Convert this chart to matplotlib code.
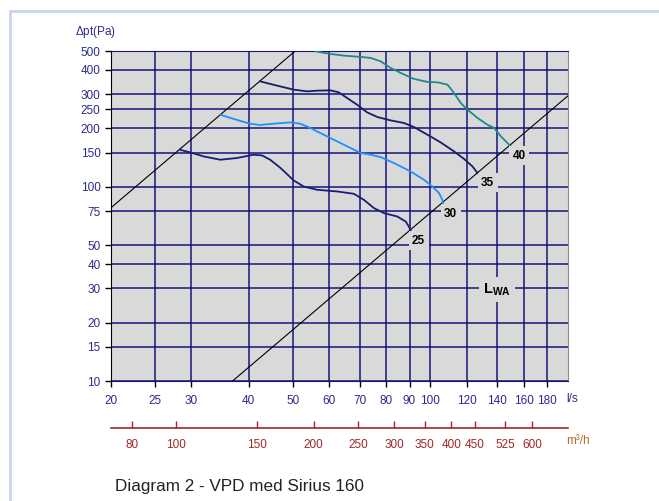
import matplotlib
matplotlib.use("Agg")
import matplotlib.pyplot as plt
from matplotlib.lines import Line2D
from matplotlib.ticker import FixedLocator, NullLocator

plt.rcParams['font.family'] = ['Liberation Sans', 'DejaVu Sans']
plt.rcParams['mathtext.fontset'] = 'custom'
plt.rcParams['mathtext.bf'] = 'Liberation Sans:bold'
plt.rcParams['mathtext.rm'] = 'Liberation Sans'

# fan curves, flow (l/s) vs total pressure (Pa)
q25 = [28.3, 29.8, 31.9, 34.7, 37.7, 41.0, 42.8, 44.6, 47.0, 50.2, 52.8, 56.5,
       62.5, 68.0, 71.5, 75.2, 79.1, 84.6, 88.3, 89.7, 90.5]
p25 = [155.1, 150.3, 143.3, 137.8, 140.6, 146.2, 145.0, 137.8, 124.9, 107.8, 100.3, 96.5,
       94.6, 92.0, 85.7, 77.7, 73.2, 70.3, 66.2, 62.4, 59.5]
q30 = [34.7, 37.1, 40.3, 42.4, 45.4, 49.4, 51.9, 54.6, 58.4, 62.5, 66.9, 70.3,
       74.0, 77.8, 83.2, 90.5, 96.8, 101.0, 104.4, 106.2, 106.5]
p30 = [235.0, 223.4, 211.2, 208.0, 211.2, 214.5, 211.2, 200.7, 185.4, 171.2, 158.3, 149.2,
       146.2, 142.2, 132.5, 119.9, 108.7, 100.3, 92.8, 85.7, 81.7]
q35 = [42.4, 46.2, 50.2, 53.7, 56.5, 60.4, 63.0, 65.7, 69.1, 72.7, 76.5, 81.8,
       87.5, 92.0, 98.5, 105.3, 112.6, 118.5, 123.6, 126.8]
p35 = [348.9, 331.6, 316.2, 309.9, 312.5, 313.7, 306.3, 286.6, 264.6, 241.5, 228.7, 219.7,
       213.0, 203.1, 185.4, 169.2, 152.1, 139.0, 127.3, 117.6]
q40 = [56.0, 60.4, 64.6, 70.3, 74.0, 77.8, 81.8, 86.1, 92.0, 98.5, 103.6, 109.0,
       112.6, 116.5, 120.5, 126.8, 133.3, 137.9, 142.6, 150.0]
p40 = [498.2, 483.1, 473.5, 466.2, 460.7, 442.5, 409.2, 385.6, 359.2, 346.6, 344.9, 335.6,
       304.1, 270.0, 249.4, 226.0, 208.7, 200.7, 181.7, 161.3]

# system lines
sys_hi_q = [20, 50.6]
sys_hi_p = [78, 500]
sys_lo_q = [36.9, 200]
sys_lo_p = [10, 294]

# sound power labels on the lower system line
lwa_labels = ['25', '30', '35', '40']
lwa_q = [94.2, 110.8, 133.4, 156.2]
lwa_p = [52.7, 72.6, 105, 144.6]

xticks = [20, 25, 30, 40, 50, 60, 70, 80, 90, 100, 120, 140, 160, 180]
yticks = [10, 15, 20, 30, 40, 50, 75, 100, 150, 200, 250, 300, 400, 500]
m3h_ticks = [80, 100, 150, 200, 250, 300, 350, 400, 450, 525, 600]

navy = '#14147a'
tick_blue = '#2b2b8c'
red = '#a02828'
bg = '#d9d9d9'

fig = plt.figure(figsize=(6.59, 5.01), dpi=100)
ax = fig.add_axes([111/659, 120/501, 457/659, 330/501])
ax.set_facecolor(bg)
ax.set_xscale('log')
ax.set_yscale('log')
ax.set_xlim(20, 200)
ax.set_ylim(10, 500)

ax.xaxis.set_major_locator(FixedLocator(xticks))
ax.xaxis.set_minor_locator(NullLocator())
ax.set_xticklabels([str(t) for t in xticks])
ax.yaxis.set_major_locator(FixedLocator(yticks))
ax.yaxis.set_minor_locator(NullLocator())
ax.set_yticklabels([str(t) for t in yticks])
ax.grid(True, color=navy, linewidth=1.1)
ax.set_axisbelow(True)
ax.tick_params(axis='both', colors='black', labelcolor=tick_blue,
               labelsize=8.5, length=4, width=1)
ax.tick_params(axis='x', pad=6)

ax.spines['top'].set_color(navy)
ax.spines['right'].set_color('#8a8a8a')
ax.spines['left'].set_color('black')
ax.spines['bottom'].set_color(navy)

ax.plot(sys_hi_q, sys_hi_p, color='black', linewidth=0.8, zorder=3)
ax.plot(sys_lo_q, sys_lo_p, color='black', linewidth=0.8, zorder=3)

ax.plot(q25, p25, color='#1b1b78', linewidth=1.3, zorder=4)
ax.plot(q30, p30, color='#1e90ff', linewidth=1.3, zorder=4)
ax.plot(q35, p35, color='#1b1b6a', linewidth=1.3, zorder=4)
ax.plot(q40, p40, color='#22888a', linewidth=1.3, zorder=4)

for lab, q, p in zip(lwa_labels, lwa_q, lwa_p):
    ax.text(q, p, lab, fontsize=8.5, fontweight='bold', ha='center', va='center',
            zorder=5, bbox=dict(facecolor=bg, edgecolor='none', pad=2.5))

ax.text(140, 29.5, r'$\mathbf{L}_{\mathbf{WA}}$', fontsize=10.5, ha='center',
        va='center', zorder=5, bbox=dict(facecolor=bg, edgecolor='none', pad=3))

# y axis title and unit labels
fig.text(75/659, 1 - 32/501, r'$\Delta$pt(Pa)', color=tick_blue, fontsize=8.5,
         va='center', ha='left')
fig.text(566/659, 1 - 399/501, 'l/s', color=tick_blue, fontsize=8.5,
         va='center', ha='left')

# second flow axis in m3/h
sec = ax.secondary_xaxis(-(428 - 381) / 330, functions=(lambda x: x * 3.6, lambda x: x / 3.6))
sec.set_xscale('log')
sec.xaxis.set_major_locator(FixedLocator(m3h_ticks))
sec.xaxis.set_minor_locator(NullLocator())
sec.set_xticklabels([str(t) for t in m3h_ticks])
sec.tick_params(axis='x', direction='in', colors=red, labelcolor=red,
                labelsize=8.5, length=5, width=1, pad=8)
sec.spines['bottom'].set_color(red)
sec.spines['bottom'].set_linewidth(1.2)
fig.text(566/659, 1 - 441/501, 'm³/h', color='#b06a2a', fontsize=8.5,
         va='center', ha='left')

fig.text(115/659, 1 - 487/501, 'Diagram 2 - VPD med Sirius 160', fontsize=12.3,
         color='#222222', va='center', ha='left')

# outer frame lines
fig.add_artist(Line2D([10/659, 1.0], [1 - 11/501, 1 - 11/501], color='#c9d5ea',
                      linewidth=2, transform=fig.transFigure))
fig.add_artist(Line2D([10/659, 10/659], [0, 1 - 11/501], color='#c9d5ea',
                      linewidth=2, transform=fig.transFigure))

fig.savefig('out.png', dpi=100)
